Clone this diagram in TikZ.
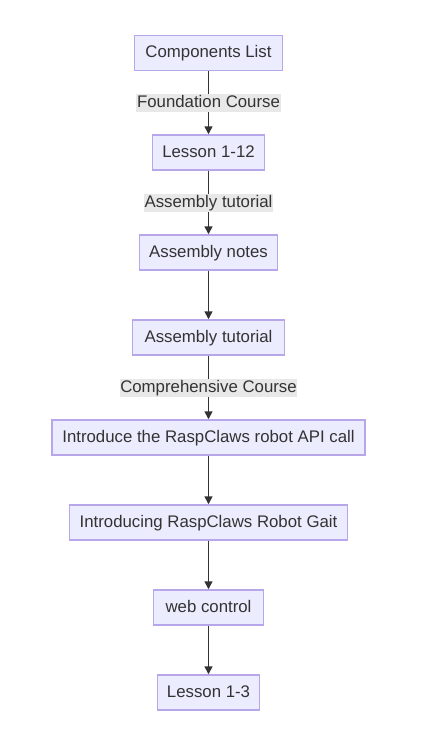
\documentclass[tikz,border=0pt]{standalone}
\usepackage{fontspec}
\setmainfont{Liberation Sans}
\usetikzlibrary{arrows.meta}
\definecolor{nodefill}{HTML}{ECECFF}
\definecolor{nodedraw}{HTML}{B7A6EA}
\definecolor{txt}{HTML}{333333}
\definecolor{lblbg}{HTML}{E8E8E8}
\begin{document}
\begin{tikzpicture}[x=0.75pt,y=-0.75pt,
  box/.style={draw=nodedraw,fill=nodefill,line width=1.1pt,text=txt,font=\fontsize{12.6}{14}\selectfont,minimum height=26.25pt,inner sep=0pt,text height=8.6pt,text depth=1.6pt},
  lbl/.style={fill=lblbg,text=txt,font=\fontsize{12.6}{14}\selectfont,inner sep=0.5pt,text height=9.2pt,text depth=2.6pt},
  arr/.style={draw=txt,line width=1.1pt,-{Triangle[length=6pt,width=6pt]}}]
\useasboundingbox (0,0) rectangle (422,743);
\fill[white] (0,0) rectangle (422,743);
\node[box,minimum width=111pt] (n1) at (208.5,53) {Components List};
\node[box,minimum width=84pt] (n2) at (208.5,152.5) {Lesson 1-12};
\node[box,minimum width=103.5pt] (n3) at (208.5,252.5) {Assembly notes};
\node[box,minimum width=114pt] (n4) at (208.5,337.5) {Assembly tutorial};
\node[box,minimum width=234.75pt] (n5) at (208.5,437.5) {Introduce the RaspClaws robot API call};
\node[box,minimum width=208.5pt] (n6) at (208.5,522.5) {Introducing RaspClaws Robot Gait};
\node[box,minimum width=82.5pt] (n7) at (208.5,607.5) {web control};
\node[box,minimum width=76.5pt] (n8) at (208.5,692.5) {Lesson 1-3};
\draw[arr] (n1) -- (n2);
\draw[arr] (n2) -- (n3);
\draw[arr] (n3) -- (n4);
\draw[arr] (n4) -- (n5);
\draw[arr] (n5) -- (n6);
\draw[arr] (n6) -- (n7);
\draw[arr] (n7) -- (n8);
\node[lbl] (l1) at (208.5,103) {Foundation Course};
\node[lbl] (l2) at (208.5,203) {Assembly tutorial};
\node[lbl] (l3) at (208.5,388) {Comprehensive Course};
\end{tikzpicture}
\end{document}
